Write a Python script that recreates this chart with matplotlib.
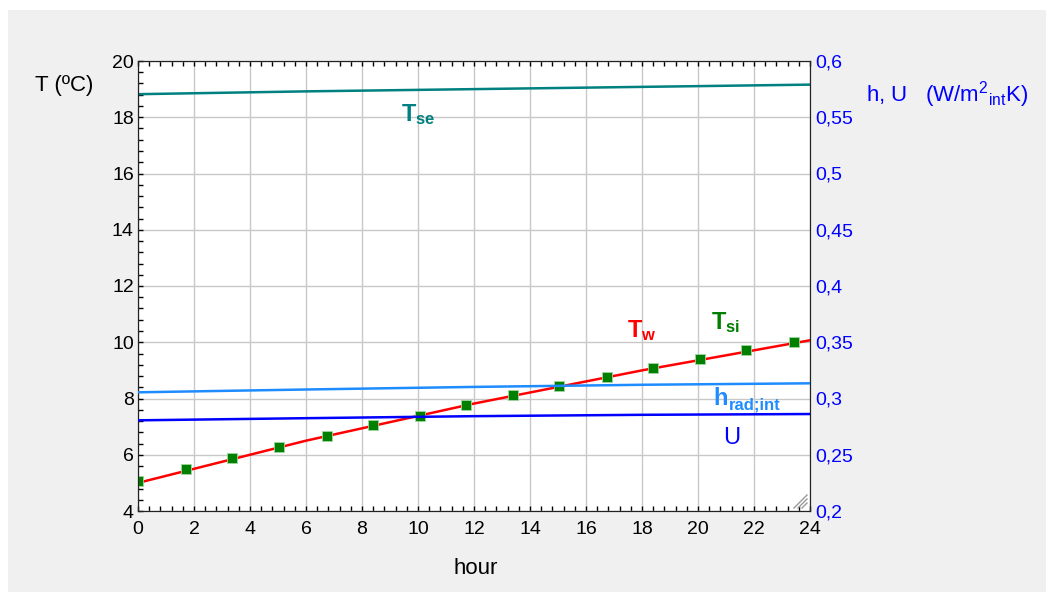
import matplotlib

matplotlib.use("Agg")
import matplotlib.pyplot as plt
from matplotlib.patches import Rectangle
from matplotlib.ticker import FuncFormatter, MultipleLocator

plt.rcParams["font.family"] = "Liberation Sans"
plt.rcParams["mathtext.fontset"] = "custom"
plt.rcParams["mathtext.rm"] = "Liberation Sans"
plt.rcParams["mathtext.it"] = "Liberation Sans"
plt.rcParams["mathtext.bf"] = "Liberation Sans:bold"

# --- data ---
line_hours = [0, 6, 12, 18, 24]
t_se = [18.82, 18.92, 19.0, 19.08, 19.16]
t_w = [5.0, 6.5, 7.82, 9.0, 10.07]
h_rad_int = [0.3055, 0.3080, 0.3103, 0.3122, 0.3135]
u_value = [0.2806, 0.2825, 0.2843, 0.2855, 0.2862]

tsi_hours = [0.0, 1.71, 3.37, 5.05, 6.74, 8.38, 10.07, 11.71, 13.39,
             15.05, 16.74, 18.39, 20.08, 21.73, 23.42]
t_si = [5.07, 5.48, 5.87, 6.28, 6.68, 7.05, 7.39, 7.76, 8.12,
        8.44, 8.76, 9.08, 9.39, 9.72, 10.01]

TEAL = "#008080"
RED = "#ff0000"
GREEN = "#007f00"
LIGHTBLUE = "#1e8cff"
BLUE = "#0000ff"

fig = plt.figure(figsize=(10.46, 5.92), dpi=100, facecolor="white")
fig.patches.append(Rectangle((8 / 1046, 0), 1, 1 - 10 / 592, transform=fig.transFigure,
                             facecolor="#f0f0f0", edgecolor="none", zorder=-10))

ax = fig.add_axes([138 / 1046, 1 - 511 / 592, 672 / 1046, 450 / 592])
ax.set_facecolor("white")
ax.set_xlim(0, 24)
ax.set_ylim(4, 20)
ax.xaxis.set_major_locator(MultipleLocator(2))
ax.xaxis.set_minor_locator(MultipleLocator(0.4))
ax.yaxis.set_major_locator(MultipleLocator(2))
ax.yaxis.set_minor_locator(MultipleLocator(0.4))
ax.grid(True, which="major", color="#c8c8c8", linewidth=1.0)
ax.set_axisbelow(True)
ax.tick_params(which="both", direction="in", length=3.5, width=1, top=True,
               right=False, labelsize=14, colors="black")
ax.tick_params(axis="x", which="both", pad=7)
ax.tick_params(axis="y", which="both", pad=3)
for s in ax.spines.values():
    s.set_color("#222222")

ax.plot(line_hours, t_se, color=TEAL, lw=1.8, zorder=3)
ax.plot(line_hours, t_w, color=RED, lw=1.8, zorder=4)
ax.plot(tsi_hours, t_si, ls="none", marker="s", ms=6.5, color=GREEN,
        markeredgecolor="#9fd89f", markeredgewidth=0.6, zorder=5)

ax2 = ax.twinx()
ax2.set_ylim(0.2, 0.6)
ax2.yaxis.set_major_locator(MultipleLocator(0.05))
ax2.yaxis.set_major_formatter(FuncFormatter(lambda v, p: f"{v:.2f}".rstrip("0").rstrip(".").replace(".", ",")))
ax2.tick_params(axis="y", length=0, pad=4, labelsize=14, labelcolor=BLUE)
for s in ax2.spines.values():
    s.set_color("#222222")
ax2.plot(line_hours, h_rad_int, color=LIGHTBLUE, lw=1.8, zorder=3)
ax2.plot(line_hours, u_value, color=BLUE, lw=1.8, zorder=3)

# resize grip in the corner: three parallel "/" strokes
for d in (5, 9, 13):
    ax.plot([1 - (3 + d) / 672, 1 - 3 / 672], [3 / 450, (3 + d) / 450],
            transform=ax.transAxes, color="#9a9a9a", lw=1.0, zorder=6)

# curve labels
ax.text(10.0, 18.1, r"$\mathbf{T_{se}}$", color=TEAL, fontsize=17, ha="center", va="center")
ax.text(18.0, 10.4, r"$\mathbf{T_{w}}$", color=RED, fontsize=17, ha="center", va="center")
ax.text(21.0, 10.7, r"$\mathbf{T_{si}}$", color=GREEN, fontsize=17, ha="center", va="center")
ax.text(20.8, 8.0, "h", color=LIGHTBLUE, fontsize=17, fontweight="bold", ha="center", va="center")
ax.annotate("rad;int", xy=(20.8, 8.0), xytext=(6, -5), textcoords="offset points",
            color=LIGHTBLUE, fontsize=12, fontweight="bold", ha="left", va="center")
ax.text(21.2, 6.6, "U", color=BLUE, fontsize=17, ha="center", va="center")

fig.text(35 / 1046, 1 - 85 / 592, "T (ºC)", fontsize=16, ha="left", va="center")
fig.text(866 / 1046, 1 - 95 / 592, r"h, U   (W/m$^{2}$$_{\rm int}$K)", fontsize=16,
         color=BLUE, ha="left", va="center")
fig.text(476 / 1046, 1 - 568 / 592, "hour", fontsize=16, ha="center", va="center")

fig.savefig("out.png", dpi=100, facecolor=fig.get_facecolor())
